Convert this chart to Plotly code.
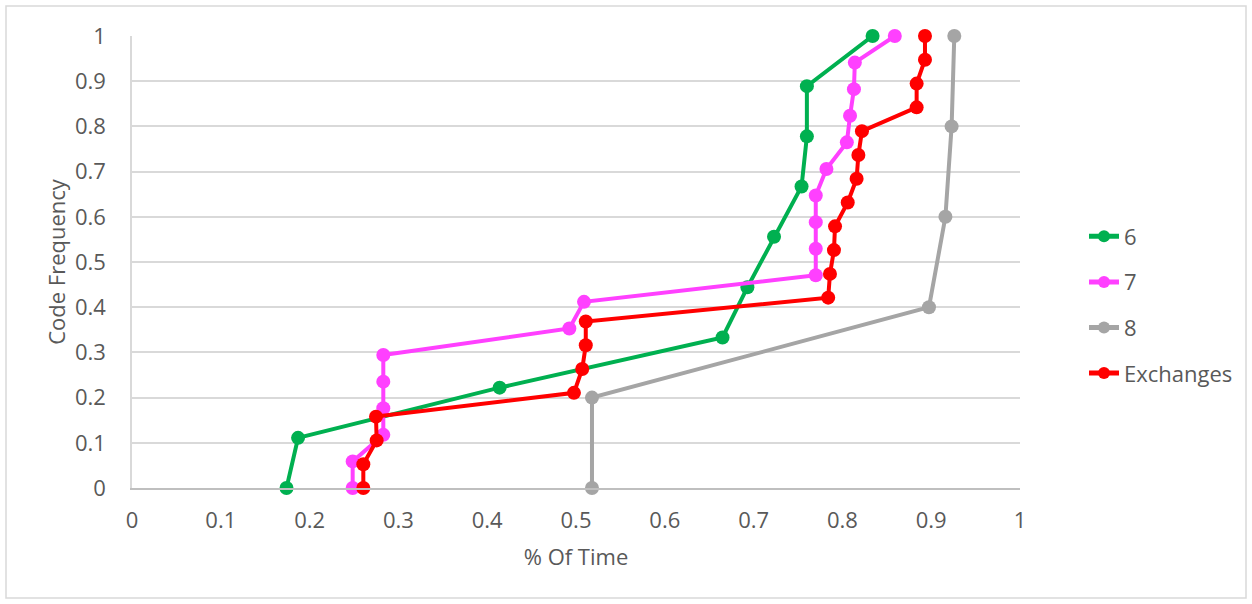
import plotly.graph_objects as go

# Series 6
x6 = [0.174, 0.187, 0.414, 0.665, 0.693, 0.723, 0.754, 0.760, 0.760, 0.834]
y6 = [0, 0.111, 0.222, 0.333, 0.444, 0.556, 0.667, 0.778, 0.889, 1]

# Series 7
x7 = [0.2485, 0.2485, 0.283, 0.283, 0.283, 0.283, 0.4925, 0.509, 0.770, 0.770,
      0.770, 0.770, 0.782, 0.805, 0.8086, 0.813, 0.814, 0.859]
y7 = [0, 0.0588, 0.1176, 0.1765, 0.2353, 0.2941, 0.3529, 0.4118, 0.4706, 0.5294,
      0.5882, 0.6471, 0.7059, 0.7647, 0.8235, 0.8824, 0.9412, 1]

# Series 8
x8 = [0.518, 0.518, 0.8975, 0.916, 0.923, 0.926]
y8 = [0, 0.2, 0.4, 0.6, 0.8, 1]

# Exchanges
xe = [0.2605, 0.2605, 0.2755, 0.2748, 0.4977, 0.507, 0.511, 0.511, 0.784, 0.786,
      0.7905, 0.7917, 0.806, 0.816, 0.818, 0.822, 0.8836, 0.8836, 0.893, 0.893]
ye = [0, 0.0526, 0.1053, 0.1579, 0.2105, 0.2632, 0.3158, 0.3684, 0.4211, 0.4737,
      0.5263, 0.5789, 0.6316, 0.6842, 0.7368, 0.7895, 0.8421, 0.8947, 0.9474, 1]

series = [("6", x6, y6, "#00b050"), ("7", x7, y7, "#ff40ff"),
          ("8", x8, y8, "#a5a5a5"), ("Exchanges", xe, ye, "#ff0000")]

xticks = [0, 0.1, 0.2, 0.3, 0.4, 0.5, 0.6, 0.7, 0.8, 0.9, 1]
xticklabels = ["0", "0.1", "0.2", "0.3", "0.4", "0.5", "0.6", "0.7", "0.8", "0.9", "1"]
yticks = [0, 0.1, 0.2, 0.3, 0.4, 0.5, 0.6, 0.7, 0.8, 0.9, 1]
yticklabels = ["0", "0.1", "0.2", "0.3", "0.4", "0.5", "0.6", "0.7", "0.8", "0.9", "1"]

FONT = "Open Sans"
TXT = "#595959"
FS = 22

fig = go.Figure()
for name, xs, ys, col in series:
    fig.add_trace(go.Scatter(x=xs, y=ys, name=name, mode="lines+markers",
                             legendgroup=name, cliponaxis=False,
                             line=dict(color=col, width=4),
                             marker=dict(color=col, size=14)))

fig.update_layout(
    width=1252, height=604,
    margin=dict(l=132, r=232, t=36, b=116),
    paper_bgcolor="white", plot_bgcolor="white",
    font=dict(family=FONT, size=FS, color=TXT),
    legend=dict(x=(1084 - 132) / 888, xanchor="left", y=(488 - 305) / 452, yanchor="middle",
                font=dict(size=FS, color=TXT), tracegroupgap=14,
                itemsizing="constant"),
    xaxis=dict(range=[0, 1], tickvals=xticks, ticktext=xticklabels,
               showgrid=False, zeroline=False, showline=True,
               linecolor="#bfbfbf", linewidth=2, ticks="",
               ticklabelstandoff=12,
               title=dict(text="% Of Time", font=dict(size=FS, color=TXT), standoff=16)),
    yaxis=dict(range=[0, 1], tickvals=yticks, ticktext=yticklabels,
               showgrid=True, gridcolor="#d9d9d9", gridwidth=1.5,
               zeroline=False, showline=True, linecolor="#d9d9d9", linewidth=1.5,
               ticks="", ticklabelstandoff=20,
               title=dict(text="Code Frequency", font=dict(size=FS, color=TXT), standoff=3)),
    shapes=[dict(type="rect", xref="paper", yref="paper",
                 x0=(6 - 132) / 888, x1=(1246 - 132) / 888,
                 y0=(488 - 598) / 452, y1=(488 - 6) / 452,
                 line=dict(color="#d9d9d9", width=1.5), fillcolor="rgba(0,0,0,0)",
                 layer="below")],
)

fig.write_html("out.html")
